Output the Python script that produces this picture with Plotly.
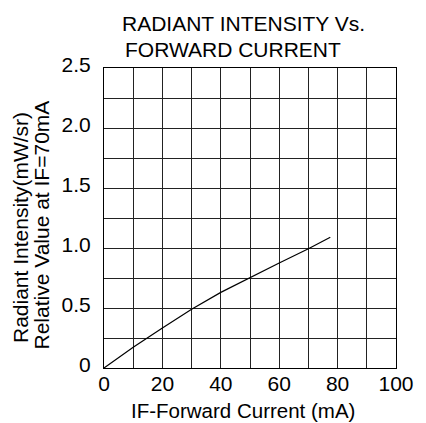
import plotly.graph_objects as go

current_ma = [0, 10, 20, 30, 40, 50, 60, 70, 77.5]
relative_intensity = [0.0, 0.172, 0.333, 0.489, 0.63, 0.756, 0.875, 0.994, 1.09]

x_tick_vals = [0, 10, 20, 30, 40, 50, 60, 70, 80, 90, 100]
x_tick_text = ["0", "", "20", "", "40", "", "60", "", "80", "", "100"]
y_tick_vals = [0, 0.25, 0.5, 0.75, 1.0, 1.25, 1.5, 1.75, 2.0, 2.25, 2.5]
y_tick_text = ["0", "", "0.5", "", "1.0", "", "1.5", "", "2.0", "", "2.5"]

title_lines = ["RADIANT INTENSITY Vs.", "FORWARD CURRENT"]
x_title = "IF-Forward Current (mA)"
y_title_lines = ["Radiant Intensity(mW/sr)", "Relative Value at IF=70mA"]

FONT = "Liberation Sans, Arial, sans-serif"
FS = 21

fig = go.Figure()
fig.add_trace(go.Scatter(x=current_ma, y=relative_intensity, mode="lines",
                         line=dict(color="black", width=1.2), showlegend=False,
                         hoverinfo="skip"))

axis_common = dict(showgrid=True, gridcolor="#222222", gridwidth=1,
                   showline=True, linecolor="black", linewidth=1.2, mirror=True,
                   zeroline=False, ticks="", tickfont=dict(family=FONT, size=FS, color="black"),
                   fixedrange=True)

fig.update_xaxes(range=[0, 100], tickvals=x_tick_vals, ticktext=x_tick_text,
                 ticklabelstandoff=-3, **axis_common)
fig.update_yaxes(range=[0, 2.5], tickvals=y_tick_vals, ticktext=y_tick_text,
                 ticklabelstandoff=8, ticklabelshift=-3, **axis_common)

W, H = 426, 423
pl, pr, pt, pb = 104, 403, 68, 368
fig.update_layout(
    width=W, height=H, autosize=False,
    margin=dict(l=pl, r=W - pr, t=pt, b=H - pb, pad=0),
    paper_bgcolor="white", plot_bgcolor="white",
    font=dict(family=FONT, size=FS, color="black"),
)

def px(x):
    return (x - pl) / (pr - pl)
def py(y):
    return (pb - y) / (pb - pt)

ann = []
for text, x, y, fs in [(title_lines[0], 246.5, 24, FS), (title_lines[1], 236.3, 50, FS),
                       (x_title, 246, 410, 20.5)]:
    ann.append(dict(text=text, x=px(x), y=py(y), xref="paper", yref="paper",
                    showarrow=False, xanchor="center", yanchor="middle",
                    font=dict(family=FONT, size=fs, color="black")))
for text, x, y in [(y_title_lines[0], 18, 228), (y_title_lines[1], 40, 225)]:
    ann.append(dict(text=text, x=px(x), y=py(y), xref="paper", yref="paper",
                    showarrow=False, textangle=-90, xanchor="center", yanchor="middle",
                    font=dict(family=FONT, size=FS, color="black")))
fig.update_layout(annotations=ann)

fig.write_html("out.html", config={"displayModeBar": False},
               post_script="document.body.style.margin='0px';document.body.style.overflow='hidden';")
